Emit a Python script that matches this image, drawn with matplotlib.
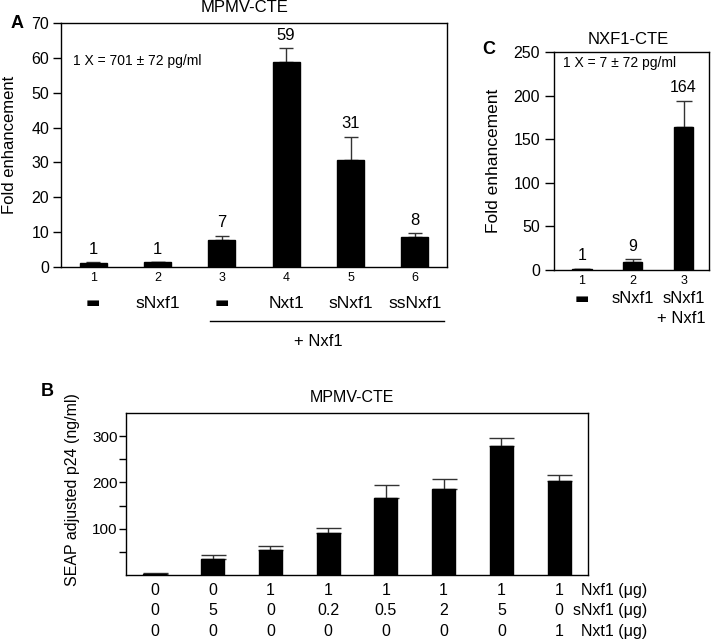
import matplotlib
matplotlib.use("Agg")
import matplotlib.pyplot as plt
import matplotlib.transforms as mtransforms
import numpy as np

plt.rcParams['font.family'] = ['Liberation Sans', 'DejaVu Sans']
plt.rcParams['axes.linewidth'] = 1.0

# Panel A: MPMV-CTE fold enhancement
a_lanes = ['1', '2', '3', '4', '5', '6']
a_conditions = ['\u25ac', 'sNxf1', '\u25ac', 'Nxt1', 'sNxf1', 'ssNxf1']
a_values = [1.2, 1.3, 7.7, 58.8, 30.7, 8.5]
a_errors = [0.2, 0.1, 1.2, 3.9, 6.6, 1.2]
a_labels = ['1', '1', '7', '59', '31', '8']

# Panel C: NXF1-CTE fold enhancement
c_lanes = ['1', '2', '3']
c_conditions = ['\u25ac', 'sNxf1', 'sNxf1']
c_values = [0.8, 9.2, 164.3]
c_errors = [0.4, 3.1, 29.7]
c_labels = ['1', '9', '164']

# Panel B: SEAP adjusted p24 titration
b_values = [2, 35, 53, 90, 166, 186, 279, 204]
b_errors = [1.5, 9, 10, 11, 28, 22, 17, 12]
b_nxf1 = ['0', '0', '1', '1', '1', '1', '1', '1']
b_snxf1 = ['0', '5', '0', '0.2', '0.5', '2', '5', '0']
b_nxt1 = ['0', '0', '0', '0', '0', '0', '0', '1']
b_rows = ['Nxf1 (\u03bcg)', 'sNxf1 (\u03bcg)', 'Nxt1 (\u03bcg)']

W, H = 711, 642
fig = plt.figure(figsize=(7.11, 6.42), dpi=100)


def px_axes(left, top, right, bottom):
  return fig.add_axes([left / W, 1 - bottom / H, (right - left) / W, (bottom - top) / H])


def below(ax, x, text, px, size):
  # put text px pixels under the bottom axis line; the dash glyph gets its own font
  kw = {}
  if text == '\u25ac':
    kw = dict(family='DejaVu Sans')
    size = 11
  ax.annotate(text, xy=(x, 0), xycoords=('data', 'axes fraction'),
              xytext=(0, -px * 0.72), textcoords='offset points',
              ha='center', va='center', fontsize=size, annotation_clip=False, **kw)


def bars(ax, values, errors, width, capsize):
  x = np.arange(len(values))
  ax.bar(x, values, width=width, color='black', edgecolor='black', zorder=2)
  ax.errorbar(x, values, yerr=[np.zeros(len(errors)), errors], fmt='none',
              ecolor='#333333', elinewidth=1.0, capsize=capsize, capthick=1.0, zorder=1)
  return x


# ---- Panel A ----
axA = px_axes(61, 23, 447, 267)
x = bars(axA, a_values, a_errors, 0.42, 5)
axA.set_xlim(-0.5, 5.5)
axA.set_ylim(0, 70)
axA.set_yticks(range(0, 71, 10))
axA.set_xticks([])
axA.tick_params(axis='y', direction='out', length=6, width=1, pad=2.5, labelsize=11.5)
for i in x:
  axA.annotate(a_labels[i], xy=(i, a_values[i] + a_errors[i]), xytext=(0, 4),
               textcoords='offset points', ha='center', va='bottom', fontsize=12)
  below(axA, i, a_lanes[i], 11, 9)
  below(axA, i, a_conditions[i], 36, 12.5)
line = plt.Line2D([1.82, 5.45], [-0.221, -0.221], color='black', lw=1.0,
                  transform=mtransforms.blended_transform_factory(axA.transData, axA.transAxes),
                  clip_on=False)
axA.add_line(line)
below(axA, 3.5, '+ Nxf1', 74, 12)
axA.text(0.031, 0.845, '1 X = 701 \u00b1 72 pg/ml', transform=axA.transAxes,
         ha='left', va='center', fontsize=10)
fig.text(245 / W, 1 - 8 / H, 'MPMV-CTE', ha='center', va='center', fontsize=12)
fig.text(10 / W, 1 - 145 / H, 'Fold enhancement', rotation=90, ha='center', va='center', fontsize=12)
fig.text(17 / W, 1 - 23 / H, 'A', ha='center', va='center', fontsize=13, fontweight='bold')

# ---- Panel C ----
axC = px_axes(554, 52, 709, 270)
x = bars(axC, c_values, c_errors, 0.38, 6)
axC.set_xlim(-0.55, 2.5)
axC.set_ylim(0, 250)
axC.set_yticks(range(0, 251, 50))
axC.set_xticks([])
axC.tick_params(axis='y', direction='out', length=6.5, width=1, pad=3.5, labelsize=11.5)
for i in x:
  axC.annotate(c_labels[i], xy=(i, c_values[i] + c_errors[i]), xytext=(0, 4),
               textcoords='offset points', ha='center', va='bottom', fontsize=11.5)
  below(axC, i, c_lanes[i], 10.7, 9)
  below(axC, i, c_conditions[i], 29, 12)
below(axC, 1.95, '+ Nxf1', 49, 12)
axC.text(0.058, 0.95, '1 X = 7 \u00b1 72 pg/ml', transform=axC.transAxes,
         ha='left', va='center', fontsize=10)
fig.text(628 / W, 1 - 39 / H, 'NXF1-CTE', ha='center', va='center', fontsize=12)
fig.text(493 / W, 1 - 161 / H, 'Fold enhancement', rotation=90, ha='center', va='center', fontsize=12.5)
fig.text(489 / W, 1 - 50 / H, 'C', ha='center', va='center', fontsize=13, fontweight='bold')

# ---- Panel B ----
axB = px_axes(126, 413, 588, 575)
x = bars(axB, b_values, b_errors, 0.4, 9)
axB.set_xlim(-0.5, 7.5)
axB.set_ylim(0, 350)
axB.set_yticks(range(50, 301, 50))
axB.set_yticklabels(['' if v % 100 else str(v) for v in range(50, 301, 50)])
axB.set_xticks([])
axB.tick_params(axis='y', direction='out', length=5, width=1, pad=1, labelsize=11)
for i in x:
  below(axB, i, b_nxf1[i], 15.7, 11.5)
  below(axB, i, b_snxf1[i], 35.7, 11.5)
  below(axB, i, b_nxt1[i], 56.7, 11.5)
for row, px in zip(b_rows, [15.7, 35.7, 56.7]):
  axB.annotate(row, xy=(8.53, 0), xycoords=('data', 'axes fraction'),
               xytext=(0, -px * 0.72), textcoords='offset points',
               ha='right', va='center', fontsize=11.5, annotation_clip=False)
fig.text(352 / W, 1 - 397 / H, 'MPMV-CTE', ha='center', va='center', fontsize=11.5)
fig.text(72 / W, 1 - 490 / H, 'SEAP adjusted p24 (ng/ml)', rotation=90, ha='center', va='center', fontsize=11.5)
fig.text(47 / W, 1 - 392 / H, 'B', ha='center', va='center', fontsize=13, fontweight='bold')

plt.savefig('out.png', dpi=100)
